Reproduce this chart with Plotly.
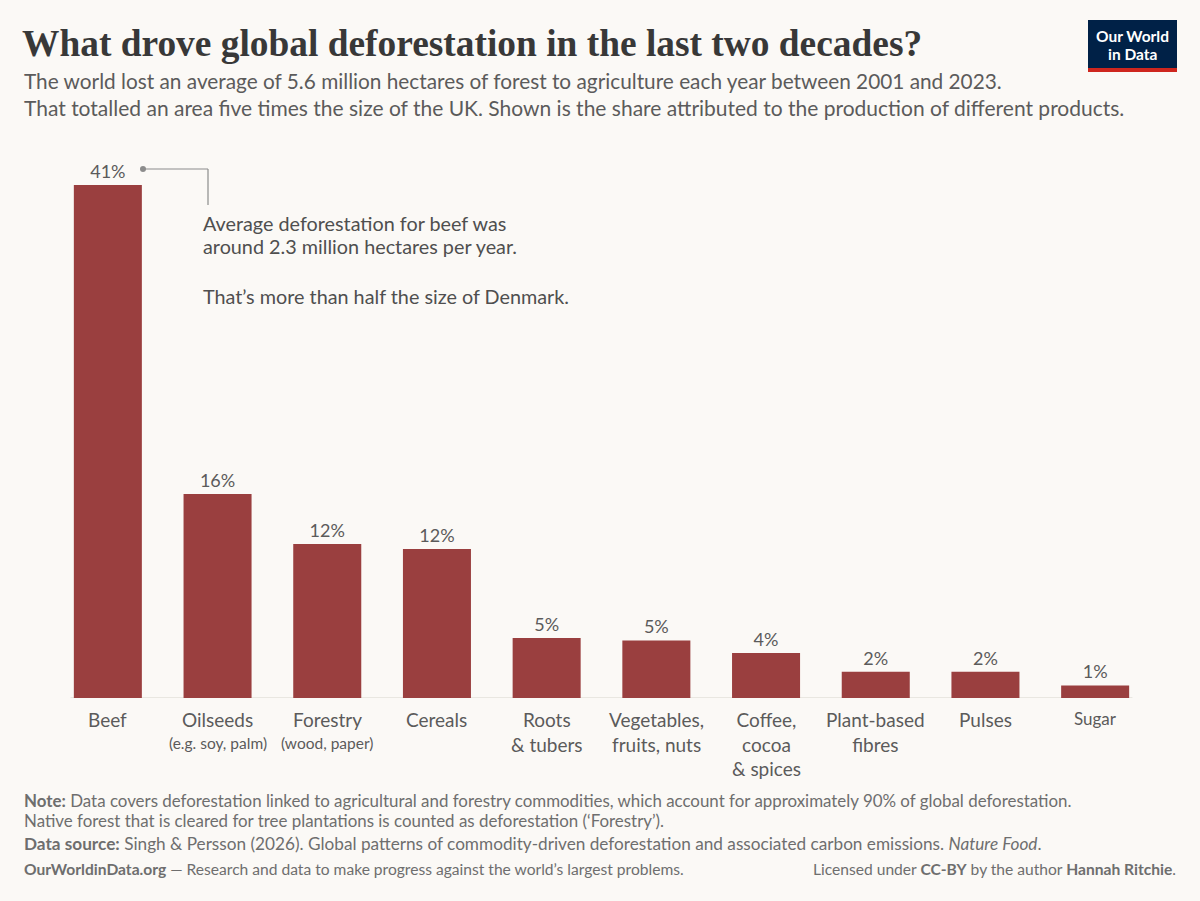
import plotly.graph_objects as go

# ---- data ----
categories = ["Beef", "Oilseeds", "Forestry", "Cereals", "Roots<br>& tubers",
              "Vegetables,<br>fruits, nuts", "Coffee,<br>cocoa<br>& spices",
              "Plant-based<br>fibres", "Pulses", "Sugar"]
sublabels = ["", "(e.g. soy, palm)", "(wood, paper)", "", "", "", "", "", "", ""]
shares = [41.0, 16.3, 12.3, 11.9, 4.8, 4.6, 3.6, 2.1, 2.1, 1.0]

W, H = 1200, 901
L, R, T, B = 53, 50, 160, 203
PW, PH = W - L - R, H - T - B

def px(x):
    return (x - L) / PW

def py(y):
    return (H - B - y) / PH

BG = "#fbf9f6"
BAR = "#9a3f3f"
TXT = "#5b5b5b"

xs = list(range(len(categories)))

fig = go.Figure()
fig.add_trace(go.Bar(
    x=xs, y=shares, marker=dict(color=BAR, line=dict(width=0)),
    texttemplate="%{y:.0f}%", textposition="outside",
    textfont=dict(family="Lato", size=18, color=TXT),
    cliponaxis=False, hoverinfo="skip", width=0.62,
))

fig.update_layout(
    width=W, height=H, paper_bgcolor=BG, plot_bgcolor=BG,
    margin=dict(l=L, r=R, t=T, b=B), showlegend=False,
    font=dict(family="Lato", color=TXT),
    xaxis=dict(range=[-0.5, len(categories) - 0.5], showticklabels=False,
               showgrid=False, zeroline=False, showline=False, ticks="", fixedrange=True),
    yaxis=dict(range=[0, 43], visible=False, fixedrange=True),
)

shapes = [
    dict(type="line", xref="x", yref="y", x0=-0.34, x1=len(categories) - 0.66, y0=0, y1=0,
         line=dict(color="#e3e0da", width=1.5), layer="below"),
    # annotation connector
    dict(type="line", xref="paper", yref="paper", x0=px(143), x1=px(208), y0=py(169), y1=py(169),
         line=dict(color="#8c8c8c", width=1.2)),
    dict(type="line", xref="paper", yref="paper", x0=px(208), x1=px(208), y0=py(169), y1=py(205),
         line=dict(color="#8c8c8c", width=1.2)),
    dict(type="circle", xref="paper", yref="paper", x0=px(140), x1=px(146), y0=py(166), y1=py(172),
         fillcolor="#8c8c8c", line=dict(width=0)),
    # logo
    dict(type="rect", xref="paper", yref="paper", x0=px(1088), x1=px(1177), y0=py(20), y1=py(72),
         fillcolor="#002147", line=dict(width=0)),
    dict(type="rect", xref="paper", yref="paper", x0=px(1088), x1=px(1177), y0=py(68), y1=py(72),
         fillcolor="#ce261e", line=dict(width=0)),
]
fig.update_layout(shapes=shapes)

ann = []
def A(text, x, y, size, color=TXT, xanchor="left", yanchor="middle", family="Lato"):
    ann.append(dict(text=text, x=px(x), y=py(y), xref="paper", yref="paper", showarrow=False,
                    xanchor=xanchor, yanchor=yanchor,
                    font=dict(family=family, size=size, color=color)))

# category labels placed on the x axis scale
for i, (c, s) in enumerate(zip(categories, sublabels)):
    size = 17 if c == "Sugar" else 19
    ytop = 707 if c == "Sugar" else 707
    ann.append(dict(text=c, x=i, xref="x", y=py(ytop), yref="paper", showarrow=False,
                    xanchor="center", yanchor="top", align="center", borderpad=0,
                    font=dict(family="Lato", size=size, color=TXT)))
    if s:
        ann.append(dict(text=s, x=i, xref="x", y=py(743), yref="paper", showarrow=False,
                        xanchor="center", yanchor="middle",
                        font=dict(family="Lato", size=15.5, color=TXT)))

A("<b>What drove global deforestation in the last two decades?</b>", 20, 43, 37.4,
  color="#383838", family="Liberation Serif")
A("The world lost an average of 5.6 million hectares of forest to agriculture each year between 2001 and 2023.",
  22, 81, 20.8, color="#5b5b5b")
A("That totalled an area five times the size of the UK. Shown is the share attributed to the production of different products.",
  22, 108, 21, color="#5b5b5b")
A("<b>Our World</b>", 1132.5, 36, 15.5, color="#ffffff", xanchor="center")
A("<b>in Data</b>", 1132.5, 54, 15.5, color="#ffffff", xanchor="center")

AC = "#4f4f4f"
A("Average deforestation for beef was", 201, 223, 19.8, color=AC)
A("around 2.3 million hectares per year.", 201, 246, 19.8, color=AC)
A("That’s more than half the size of Denmark.", 201, 296, 19.8, color=AC)

FC = "#6e6e6e"
A("<b>Note:</b> Data covers deforestation linked to agricultural and forestry commodities, which account for approximately 90% of global deforestation.",
  22, 800, 16.9, color=FC)
A("Native forest that is cleared for tree plantations is counted as deforestation (‘Forestry’).",
  22, 820, 16.9, color=FC)
A("<b>Data source:</b> Singh & Persson (2026). Global patterns of commodity-driven deforestation and associated carbon emissions. <i>Nature Food</i>.",
  22, 843, 17.2, color=FC)
A("<b>OurWorldinData.org</b> — Research and data to make progress against the world’s largest problems.",
  22, 869, 15.6, color=FC)
A("Licensed under <b>CC-BY</b> by the author <b>Hannah Ritchie</b>.",
  1178, 869, 15.6, color=FC, xanchor="right")

fig.update_layout(annotations=ann)
fig.write_html("out.html", config={"displayModeBar": False},
               post_script="document.body.style.margin='0';")
